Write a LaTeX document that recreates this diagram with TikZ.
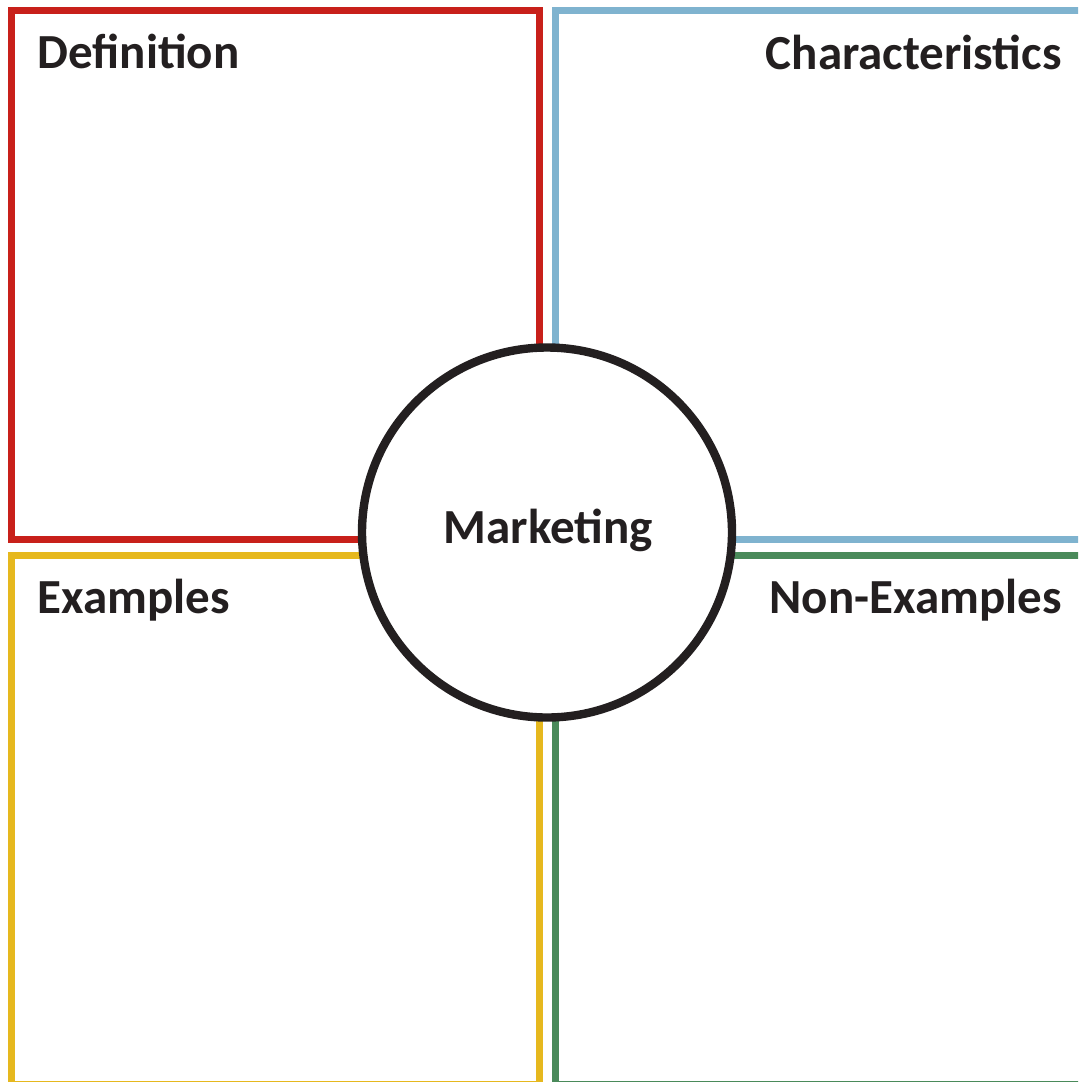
\documentclass[tikz,border=0pt]{standalone}
\usepackage{fontspec}
\setmainfont{Carlito}
\usetikzlibrary{positioning}
\definecolor{defred}{RGB}{200,32,26}
\definecolor{chrblue}{RGB}{127,179,207}
\definecolor{exyellow}{RGB}{230,184,30}
\definecolor{nongreen}{RGB}{74,138,90}
\definecolor{ink}{RGB}{35,31,32}
\tikzset{
    %Define style for the four quarters
    quad/.style={
           draw=#1,
           line width=3.5pt,
           },
    %Define style for headings
    heading/.style={
           inner sep=0pt,
           text=ink,
           font=\fontsize{24.5}{29}\selectfont\bfseries,
           },
    %Define style for the centre circle
    hub/.style={
           circle,
           draw=ink,
           line width=4.2pt,
           fill=white,
           minimum size=185pt,
           inner sep=0pt,
           },
}
\begin{document}
\begin{tikzpicture}[x=0.5pt,y=-0.5pt]
\useasboundingbox (0,0) rectangle (1078,1082);
\clip (0,0) rectangle (1078,1082);
\draw[quad=defred] (11.5,10.5) rectangle (539.5,539.5);
\draw[quad=chrblue] (555.5,10.5) rectangle (1092,539.5);
\draw[quad=exyellow] (11.5,555.5) rectangle (539.5,1084.5);
\draw[quad=nongreen] (555.5,555.5) rectangle (1092,1084.5);
\node[heading,anchor=base west](def) at (37,68){Definition};
\node[heading,anchor=base east](chr) at (1062,69){Characteristics};
\node[heading,anchor=base west](ex) at (37,613){Examples};
\node[heading,anchor=base east](non) at (1062,613){Non-Examples};
\node[hub](topic) at (547,532.5){};
\node[heading,anchor=base](name) at (548.5,543){Marketing};
\end{tikzpicture}
\end{document}
